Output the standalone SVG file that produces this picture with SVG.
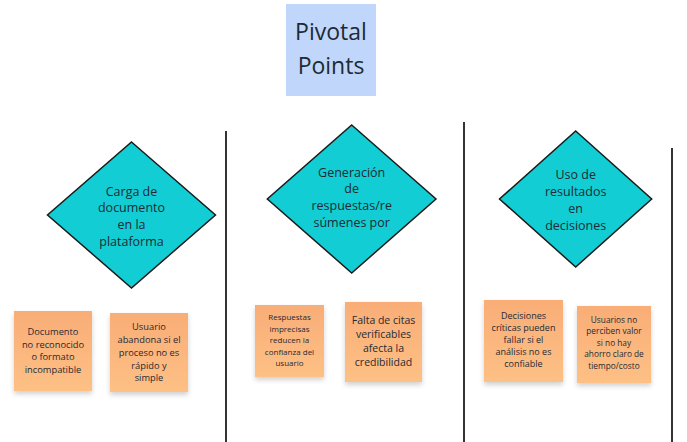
<svg xmlns="http://www.w3.org/2000/svg" width="687" height="442" viewBox="0 0 687 442">
<defs>
<linearGradient id="stk" x1="0" y1="0" x2="0" y2="1">
<stop offset="0" stop-color="#f9ad77"/>
<stop offset="1" stop-color="#fdc085"/>
</linearGradient>
<filter id="sh" x="-20%" y="-20%" width="140%" height="150%">
<feDropShadow dx="0" dy="3" stdDeviation="2.5" flood-color="#000" flood-opacity="0.18"/>
</filter>
</defs>
<style>
text{font-family:"Open Sans","Noto Sans","Liberation Sans",sans-serif;fill:#1f2a33;text-anchor:middle}
.dia{fill:#13cdd4;stroke:#1b1b1b;stroke-width:1.5}
.stk{fill:url(#stk);filter:url(#sh)}
.sep{stroke:#333;stroke-width:2}
.d{font-size:12.5px}
</style>
<rect width="687" height="442" fill="#fff"/>
<g id="title">
<rect x="286" y="4" width="90" height="92" fill="#c0d7fb"/>
<text x="331" y="40" font-size="23">Pivotal</text>
<text x="331" y="74" font-size="23">Points</text>
</g>
<g id="separators">
<line class="sep" x1="226" y1="131" x2="226" y2="442"/>
<line class="sep" x1="464" y1="122" x2="464" y2="442"/>
<line class="sep" x1="672" y1="148" x2="672" y2="442"/>
</g>
<g id="d1">
<polygon class="dia" points="131.5,142 215.5,215 131.5,288 47.5,215"/>
<text class="d" x="131.5" y="195.5">Carga de</text>
<text class="d" x="131.5" y="212.3">documento</text>
<text class="d" x="131.5" y="229">en la</text>
<text class="d" x="131.5" y="245.7">plataforma</text>
</g>
<g id="d2">
<polygon class="dia" points="351.7,125 436,199 351.7,273 267.3,199"/>
<text class="d" x="351.7" y="176.6">Generación</text>
<text class="d" x="351.7" y="193.3">de</text>
<text class="d" x="351.7" y="210.2">respuestas/re</text>
<text class="d" x="351.7" y="227">súmenes por</text>
</g>
<g id="d3">
<polygon class="dia" points="575.7,131 651.7,199 575.7,267 499.5,199"/>
<text class="d" x="575.7" y="179.3">Uso de</text>
<text class="d" x="575.7" y="196.2">resultados</text>
<text class="d" x="575.7" y="213">en</text>
<text class="d" x="575.7" y="229.8">decisiones</text>
</g>
<g id="s1">
<rect class="stk" x="14" y="311" width="78" height="80"/>
<g font-size="9.3"><text x="53" y="335">Documento</text><text x="53" y="347.6">no reconocido</text><text x="53" y="360.3">o formato</text><text x="53" y="373">incompatible</text></g>
</g>
<g id="s2">
<rect class="stk" x="110" y="313" width="78" height="79"/>
<g font-size="9.3"><text x="149" y="330">Usuario</text><text x="149" y="343">abandona si el</text><text x="149" y="355.8">proceso no es</text><text x="149" y="368.8">rápido y</text><text x="149" y="381.3">simple</text></g>
</g>
<g id="s3">
<rect class="stk" x="255" y="305" width="69" height="72"/>
<g font-size="8"><text x="289.5" y="320.2">Respuestas</text><text x="289.5" y="331.8">imprecisas</text><text x="289.5" y="343.2">reducen la</text><text x="289.5" y="354.6">confianza del</text><text x="289.5" y="366">usuario</text></g>
</g>
<g id="s4">
<rect class="stk" x="345" y="302" width="77" height="80"/>
<g font-size="10.5"><text x="383.5" y="323.7">Falta de citas</text><text x="383.5" y="337.8">verificables</text><text x="383.5" y="352">afecta la</text><text x="383.5" y="366.4">credibilidad</text></g>
</g>
<g id="s5">
<rect class="stk" x="484" y="300" width="79" height="82"/>
<g font-size="9"><text x="523.5" y="318.5">Decisiones</text><text x="523.5" y="330.8">críticas pueden</text><text x="523.5" y="342.9">fallar si el</text><text x="523.5" y="355">análisis no es</text><text x="523.5" y="367.2">confiable</text></g>
</g>
<g id="s6">
<rect class="stk" x="577" y="306" width="74" height="77"/>
<g font-size="8.3"><text x="614" y="323">Usuarios no</text><text x="614" y="334.3">perciben valor</text><text x="614" y="346">si no hay</text><text x="614" y="357.3">ahorro claro de</text><text x="614" y="369">tiempo/costo</text></g>
</g>
</svg>
